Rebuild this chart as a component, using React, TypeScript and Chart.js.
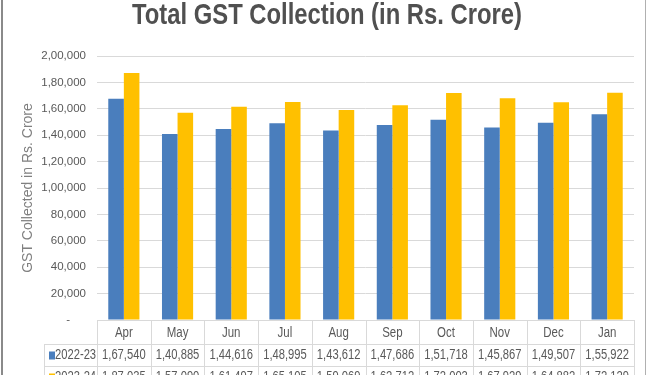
import React, { useEffect, useRef } from "react";
import { Chart, registerables } from "chart.js";

Chart.register(...registerables);

const categories = ["Apr", "May", "Jun", "Jul", "Aug", "Sep", "Oct", "Nov", "Dec", "Jan"];
const seriesNames = ["2022-23", "2023-24"];
const values2223 = [167540, 140885, 144616, 148995, 143612, 147686, 151718, 145867, 149507, 155922];
const values2324 = [187035, 157090, 161497, 165105, 159069, 162712, 172003, 167929, 164882, 172129];
const seriesColors = ["#4A7EBD", "#FFC000"];
const titleText = "Total GST Collection (in Rs. Crore)";
const yTitleText = "GST Collected in Rs. Crore";

const FONT = "'Liberation Sans', 'DejaVu Sans', sans-serif";

function inr(n: number): string {
  const s = Math.round(n).toString();
  if (s.length <= 3) return s;
  const last3 = s.slice(-3);
  const rest = s.slice(0, -3).replace(/\B(?=(\d{2})+(?!\d))/g, ",");
  return rest + "," + last3;
}

function drawNarrow(ctx: any, text: string, x: number, y: number, sx: number, align: string) {
  ctx.save();
  ctx.translate(x, y);
  ctx.scale(sx, 1);
  ctx.textAlign = align;
  ctx.fillText(text, 0, 0);
  ctx.restore();
}

const tablePlugin = {
  id: "dataTable",
  afterDraw(chart: any) {
    const ctx = chart.ctx;
    const area = chart.chartArea;
    const xs = chart.scales.x;
    const n = categories.length;
    const cw = area.width / n;
    const rowTops = [area.bottom, area.bottom + 24, area.bottom + 46];
    const labelLeft = 44;
    ctx.save();

    // title
    ctx.fillStyle = "#505050";
    ctx.font = "bold 30px " + FONT;
    ctx.textBaseline = "alphabetic";
    const tw = ctx.measureText(titleText).width;
    const sxT = 390 / tw;
    drawNarrow(ctx, titleText, 327, 24, sxT, "center");

    ctx.strokeStyle = "#d9d9d9";
    ctx.lineWidth = 1;
    ctx.beginPath();
    ctx.moveTo(area.left, rowTops[0] + 0.5);
    ctx.lineTo(area.right, rowTops[0] + 0.5);
    for (let r = 1; r <= 2; r++) {
      ctx.moveTo(labelLeft, rowTops[r] + 0.5);
      ctx.lineTo(area.right, rowTops[r] + 0.5);
    }
    for (let i = 0; i <= n; i++) {
      const x = Math.round(area.left + i * cw) + 0.5;
      ctx.moveTo(x, rowTops[0]);
      ctx.lineTo(x, chart.height);
    }
    ctx.moveTo(labelLeft + 0.5, rowTops[1]);
    ctx.lineTo(labelLeft + 0.5, chart.height);
    ctx.stroke();

    ctx.fillStyle = "#595959";
    ctx.font = "14px " + FONT;
    ctx.textBaseline = "middle";
    categories.forEach((c, i) => {
      drawNarrow(ctx, c, xs.getPixelForValue(i), rowTops[0] + 13, 0.82, "center");
    });
    const rows = [values2223, values2324];
    rows.forEach((vals, r) => {
      const cy = rowTops[r + 1] + 11.5;
      ctx.fillStyle = "#595959";
      vals.forEach((v, i) => {
        drawNarrow(ctx, inr(v), xs.getPixelForValue(i), cy, 0.8, "center");
      });
      ctx.fillStyle = seriesColors[r];
      ctx.fillRect(labelLeft + 5, cy - 4, 6, 8);
      ctx.fillStyle = "#595959";
      drawNarrow(ctx, seriesNames[r], labelLeft + 11, cy, 0.8, "left");
    });

    // frame edges
    ctx.strokeStyle = "#8a8a8a";
    ctx.lineWidth = 2;
    ctx.beginPath();
    ctx.moveTo(2, 0);
    ctx.lineTo(2, chart.height);
    ctx.stroke();
    ctx.strokeStyle = "#b0b0b0";
    ctx.lineWidth = 1;
    ctx.beginPath();
    ctx.moveTo(645.5, 0);
    ctx.lineTo(645.5, chart.height);
    ctx.stroke();
    ctx.restore();
  },
};

export default function App() {
  const ref = useRef<HTMLCanvasElement | null>(null);
  useEffect(() => {
    if (!ref.current) return;
    const chart = new Chart(ref.current, {
      type: "bar",
      data: {
        labels: categories,
        datasets: [
          { label: seriesNames[0], data: values2223, backgroundColor: seriesColors[0] },
          { label: seriesNames[1], data: values2324, backgroundColor: seriesColors[1] },
        ],
      },
      options: {
        animation: false,
        responsive: false,
        maintainAspectRatio: false,
        layout: { padding: { left: 0, right: 16, top: 56, bottom: 55 } },
        datasets: { bar: { categoryPercentage: 0.58, barPercentage: 1.0 } },
        plugins: {
          legend: { display: false },
          tooltip: { enabled: false },
          title: { display: false },
        },
        scales: {
          x: { display: false },
          y: {
            min: 0,
            max: 200000,
            afterFit: (scale: any) => {
              scale.width = 97;
            },
            border: { display: false },
            grid: { color: "#d9d9d9", drawTicks: false },
            ticks: {
              stepSize: 20000,
              padding: 11,
              color: "#595959",
              font: { family: FONT, size: 11.5 },
              callback: (v: any) => (Number(v) === 0 ? "-     " : inr(Number(v))),
            },
            title: {
              display: true,
              text: yTitleText,
              color: "#808080",
              font: { family: FONT, size: 14 },
              padding: { top: 20, bottom: 0 },
            },
          },
        },
      },
      plugins: [tablePlugin],
    });
    return () => chart.destroy();
  }, []);
  return (
    <div style={{ position: "absolute", left: 0, top: 0, width: 650, height: 375, background: "#fff" }}>
      <canvas ref={ref} width={650} height={375} style={{ width: 650, height: 375 }} />
    </div>
  );
}
